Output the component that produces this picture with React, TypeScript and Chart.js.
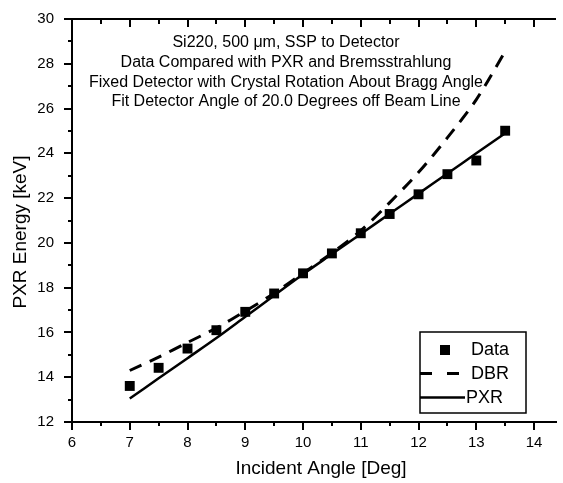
import React, { useEffect, useRef } from "react";
import { Chart, registerables } from "chart.js";

Chart.register(...registerables);

const FONT = "'Liberation Sans', Arial, Helvetica, sans-serif";

// ---- data ----
const angles = [7, 7.5, 8, 8.5, 9, 9.5, 10, 10.5, 11, 11.5, 12, 12.5, 13, 13.5];
const measuredEnergy = [13.61, 14.42, 15.28, 16.1, 16.92, 17.74, 18.64, 19.53, 20.43, 21.29, 22.17, 23.07, 23.68, 25.01];
const dbrEnergy = [14.3, 14.9, 15.55, 16.2, 16.95, 17.75, 18.65, 19.55, 20.55, 21.8, 23.15, 24.7, 26.4, 28.55];
const pxrEnergy = [13.05, 13.95, 14.85, 15.75, 16.7, 17.65, 18.6, 19.5, 20.4, 21.3, 22.2, 23.1, 24.0, 24.9];

const seriesNames = ["Data", "DBR", "PXR"];
const annotationLines = [
  "Si220, 500 \u03bcm, SSP to Detector",
  "Data Compared with PXR and Bremsstrahlung",
  "Fixed Detector with Crystal Rotation About Bragg Angle",
  "Fit Detector Angle of 20.0 Degrees off Beam Line",
];
const xTitle = "Incident Angle [Deg]";
const yTitle = "PXR Energy [keV]";
const xMin = 6;
const xMax = 14.38;
const yMin = 12;
const yMax = 30;
const xMajorStep = 1;
const yMajorStep = 2;

const toPoints = (xs: number[], ys: number[]) => xs.map((x, i) => ({ x, y: ys[i] }));

const decorPlugin = {
  id: "decor",
  afterDraw(chart: any) {
    const { ctx, chartArea: ca, scales } = chart;
    const xs = scales.x;
    const ys = scales.y;
    ctx.save();
    ctx.strokeStyle = "#000";
    ctx.fillStyle = "#000";
    ctx.lineWidth = 2;

    // top axis line
    ctx.beginPath();
    ctx.moveTo(ca.left, ca.top);
    ctx.lineTo(ca.right, ca.top);
    ctx.stroke();

    // x ticks: top (inward) and bottom minors
    for (let v = xMin; v <= xMax + 1e-9; v += xMajorStep / 2) {
      const px = Math.round(xs.getPixelForValue(v));
      const major = Math.abs(v - Math.round(v)) < 1e-6;
      ctx.beginPath();
      ctx.moveTo(px, ca.top);
      ctx.lineTo(px, ca.top + (major ? 8 : 5));
      ctx.stroke();
      if (!major) {
        ctx.beginPath();
        ctx.moveTo(px, ca.bottom);
        ctx.lineTo(px, ca.bottom + 4);
        ctx.stroke();
      }
    }
    // y minor ticks
    for (let v = yMin + yMajorStep / 2; v < yMax; v += yMajorStep) {
      const py = Math.round(ys.getPixelForValue(v));
      ctx.beginPath();
      ctx.moveTo(ca.left, py);
      ctx.lineTo(ca.left - 4, py);
      ctx.stroke();
    }

    // axis titles
    ctx.textAlign = "center";
    ctx.textBaseline = "middle";
    ctx.font = `19px ${FONT}`;
    ctx.fillText(xTitle, 321, 469);
    ctx.save();
    ctx.translate(21, 232);
    ctx.rotate(-Math.PI / 2);
    ctx.fillText(yTitle, 0, 0);
    ctx.restore();

    // annotation
    ctx.font = `16px ${FONT}`;
    const annY = [43, 63, 82.5, 102];
    annotationLines.forEach((t, i) => ctx.fillText(t, 286, annY[i]));

    // legend
    const lx = 420, lt = 332, lr = 526, lb = 413;
    ctx.lineWidth = 1.5;
    ctx.fillStyle = "#fff";
    ctx.fillRect(lx, lt, lr - lx, lb - lt);
    ctx.strokeRect(lx, lt, lr - lx, lb - lt);
    ctx.fillStyle = "#000";
    ctx.fillRect(440, 345, 10, 10);
    ctx.lineWidth = 3;
    ctx.setLineDash([12, 15]);
    ctx.beginPath();
    ctx.moveTo(lx, 373.5);
    ctx.lineTo(460, 373.5);
    ctx.stroke();
    ctx.setLineDash([]);
    ctx.lineWidth = 2.5;
    ctx.beginPath();
    ctx.moveTo(lx, 397.5);
    ctx.lineTo(465, 397.5);
    ctx.stroke();
    ctx.font = `18px ${FONT}`;
    ctx.textAlign = "left";
    ctx.fillText(seriesNames[0], 471, 350.5);
    ctx.fillText(seriesNames[1], 471, 374);
    ctx.fillText(seriesNames[2], 466, 398);
    ctx.restore();
  },
};

export default function App() {
  const ref = useRef<HTMLCanvasElement | null>(null);
  useEffect(() => {
    if (!ref.current) return;
    const chart = new Chart(ref.current, {
      type: "scatter",
      data: {
        datasets: [
          {
            label: seriesNames[0],
            data: toPoints(angles, measuredEnergy),
            pointStyle: "rect",
            pointRadius: 7,
            pointHoverRadius: 7,
            backgroundColor: "#000",
            borderWidth: 0,
            showLine: false,
            order: 0,
          },
          {
            label: seriesNames[1],
            data: toPoints(angles, dbrEnergy),
            showLine: true,
            borderColor: "#000",
            borderWidth: 3,
            borderDash: [13, 9],
            pointRadius: 0,
            tension: 0.3,
            order: 1,
          },
          {
            label: seriesNames[2],
            data: toPoints(angles, pxrEnergy),
            showLine: true,
            borderColor: "#000",
            borderWidth: 2.5,
            pointRadius: 0,
            tension: 0.3,
            order: 2,
          },
        ],
      },
      options: {
        animation: false,
        responsive: false,
        events: [],
        layout: { padding: { top: 19, right: 0, bottom: 0, left: 0 } },
        plugins: { legend: { display: false }, tooltip: { enabled: false } },
        scales: {
          x: {
            type: "linear",
            position: "bottom",
            min: xMin,
            max: xMax,
            afterFit: (s: any) => {
              s.height = 61;
            },
            ticks: {
              stepSize: xMajorStep,
              includeBounds: false,
              color: "#000",
              font: { family: FONT, size: 15 },
              padding: 4,
              maxRotation: 0,
            },
            grid: { drawOnChartArea: false, drawTicks: true, tickLength: 8, tickColor: "#000", lineWidth: 2 },
            border: { display: true, color: "#000", width: 2 },
          },
          y: {
            type: "linear",
            min: yMin,
            max: yMax,
            afterFit: (s: any) => {
              s.width = 72;
            },
            ticks: {
              stepSize: yMajorStep,
              includeBounds: false,
              color: "#000",
              font: { family: FONT, size: 15 },
              padding: 10,
            },
            grid: { drawOnChartArea: false, drawTicks: true, tickLength: 8, tickColor: "#000", lineWidth: 2 },
            border: { display: true, color: "#000", width: 2 },
          },
        },
      },
      plugins: [decorPlugin],
    });
    return () => chart.destroy();
  }, []);
  return (
    <div style={{ position: "fixed", left: 0, top: 0, width: 563, height: 483, background: "#fff" }}>
      <canvas ref={ref} width={563} height={483} style={{ display: "block" }} />
    </div>
  );
}
